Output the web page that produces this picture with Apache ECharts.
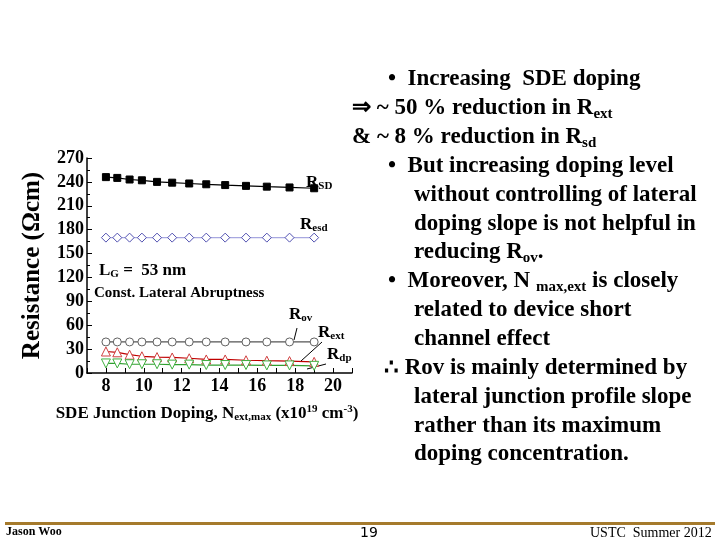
<!DOCTYPE html>
<html><head><meta charset="utf-8">
<script src="https://cdn.jsdelivr.net/npm/echarts@6/dist/echarts.min.js"></script>
<style>html,body{margin:0;padding:0;background:#fff}#main{width:720px;height:540px}</style>
</head><body><div id="main"></div>
<script>
var chart = echarts.init(document.getElementById('main'));
var xDoping = [8, 8.6, 9.25, 9.9, 10.7, 11.5, 12.4, 13.3, 14.3, 15.4, 16.5, 17.7, 19];
var rSD  = [246, 245, 243, 242, 240, 239, 238, 237, 236, 235, 234, 233, 232];
var rEsd = [170, 170, 170, 170, 170, 170, 170, 170, 170, 170, 170, 170, 170];
var rOv  = [39, 39, 39, 39, 39, 39, 39, 39, 39, 39, 39, 39, 39];
var rExt = [27, 26, 23, 21, 20, 19.5, 18.5, 17, 17, 16, 15.5, 15, 14];
var rDp  = [12, 12, 11, 11, 11, 10.5, 10.5, 10, 10, 10, 9.5, 9.5, 9];
var yTicks = [0, 30, 60, 90, 120, 150, 180, 210, 240, 270];

function pairs(v) { return xDoping.map(function (x, i) { return [x, v[i]]; }); }
var F = 'Liberation Serif';

function txt(x, y, rich, str, size) {
    return { type: 'text', left: x, top: y, style: { text: str, font: 'bold ' + (size || 17) + 'px ' + F, fill: '#000', rich: rich } };
}
var sub = { s: { fontFamily: F, fontWeight: 'bold', fontSize: 11, verticalAlign: 'bottom', padding: [8, 0, 0, 0] } };
var subN = { s: { fontFamily: F, fontWeight: 'bold', fontSize: 15, padding: [11, 0, 0, 0] } };

var lines = [
    [388, 68, '•  Increasing  SDE doping'],
    [352, 97, '⇒ ~ 50 % reduction in R{s|ext}'],
    [352, 126, '& ~ 8 % reduction in R{s|sd}'],
    [388, 155, '•  But increasing doping level'],
    [414, 184, 'without controlling of lateral'],
    [414, 213, 'doping slope is not helpful in'],
    [414, 241, 'reducing R{s|ov}.'],
    [388, 270, '•  Moreover, N {s|max,ext} is closely'],
    [414, 299, 'related to device short'],
    [414, 328, 'channel effect'],
    [384, 357, '∴ Rov is mainly determined by'],
    [414, 386, 'lateral junction profile slope'],
    [414, 415, 'rather than its maximum'],
    [414, 443, 'doping concentration.']
];
var graphics = lines.map(function (l) {
    return { type: 'text', left: l[0], top: l[1], style: { text: l[2], font: 'bold 23px ' + F, fill: '#000', rich: subN } };
});
graphics = graphics.concat([
    txt(306, 174, sub, 'R{s|SD}', 17),
    txt(300, 216, sub, 'R{s|esd}', 17),
    txt(99, 262, sub, 'L{s|G} =  53 nm', 17),
    txt(94, 286, {}, 'Const. Lateral Abruptness', 15),
    txt(289, 306, sub, 'R{s|ov}', 17),
    txt(318, 324, sub, 'R{s|ext}', 17),
    txt(327, 346, sub, 'R{s|dp}', 17),
    { type: 'line', shape: { x1: 297, y1: 328, x2: 294, y2: 340 }, style: { stroke: '#000', lineWidth: 1 } },
    { type: 'line', shape: { x1: 322, y1: 342, x2: 301, y2: 361 }, style: { stroke: '#000', lineWidth: 1 } },
    { type: 'line', shape: { x1: 326, y1: 364, x2: 307, y2: 369 }, style: { stroke: '#000', lineWidth: 1 } },
    { type: 'rect', shape: { x: 5, y: 522, width: 710, height: 3 }, style: { fill: '#a57a2c' } },
    { type: 'text', left: 6, top: 526, style: { text: 'Jason Woo', font: 'bold 12px ' + F, fill: '#000' } },
    { type: 'text', left: 360, top: 526, style: { text: '19', font: '14px "DejaVu Sans"', fill: '#000' } },
    { type: 'text', left: 590, top: 526, style: { text: 'USTC  Summer 2012', font: '14px ' + F, fill: '#000' } }
]);

function ser(name, data, symbol, size, color, lineColor, extra) {
    var s = { name: name, type: 'line', data: pairs(data), symbol: symbol, symbolSize: size,
        itemStyle: { color: color.fill, borderColor: color.border, borderWidth: 1 },
        lineStyle: { color: lineColor, width: 1.2 }, silent: true, animation: false };
    return Object.assign(s, extra || {});
}

chart.setOption({
    animation: false,
    grid: { left: 87, right: 368, top: 158, bottom: 167 },
    xAxis: {
        type: 'value', min: 7, max: 21, interval: 1,
        name: 'SDE Junction Doping, N{s|ext,max} (x10{p|19} cm{p|-3})', nameLocation: 'middle', nameGap: 31,
        nameTextStyle: { fontFamily: F, fontWeight: 'bold', fontSize: 17, color: '#000', padding: [0, 0, 0, -25],
            rich: { s: { fontFamily: F, fontWeight: 'bold', fontSize: 11, padding: [8, 0, 0, 0] },
                    p: { fontFamily: F, fontWeight: 'bold', fontSize: 11, padding: [0, 0, 8, 0] } } },
        axisLine: { lineStyle: { color: '#000', width: 1.5 } },
        axisTick: { inside: true, length: 5, lineStyle: { color: '#000' } },
        axisLabel: { fontFamily: F, fontWeight: 'bold', fontSize: 18, color: '#000', margin: 4,
            formatter: function (v) { return v % 2 === 0 ? String(v) : ''; } },
        splitLine: { show: false }
    },
    yAxis: {
        type: 'value', min: yTicks[0], max: yTicks[yTicks.length - 1], interval: 30,
        name: 'Resistance (Ωcm)', nameLocation: 'middle', nameGap: 42,
        nameTextStyle: { fontFamily: F, fontWeight: 'bold', fontSize: 25, color: '#000' },
        axisLine: { lineStyle: { color: '#000', width: 1.5 } },
        axisTick: { inside: true, length: 5, lineStyle: { color: '#000' } },
        minorTick: { show: true, splitNumber: 2, length: 3, lineStyle: { color: '#000' } },
        axisLabel: { fontFamily: F, fontWeight: 'bold', fontSize: 18, color: '#000', margin: 3 },
        splitLine: { show: false }
    },
    graphic: graphics,
    series: [
        ser('RSD', rSD, 'rect', 7, { fill: '#000', border: '#000' }, '#000'),
        ser('Resd', rEsd, 'diamond', 9, { fill: '#fff', border: '#5050b0' }, '#a8a8e0'),
        ser('Rov', rOv, 'circle', 8, { fill: '#fff', border: '#606060' }, '#555'),
        ser('Rext', rExt, 'triangle', 9, { fill: '#fff', border: '#d04040' }, '#c00000'),
        ser('Rdp', rDp, 'triangle', 9, { fill: '#fff', border: '#40b040' }, '#30a030', { symbolRotate: 180 })
    ]
});
</script></body></html>
